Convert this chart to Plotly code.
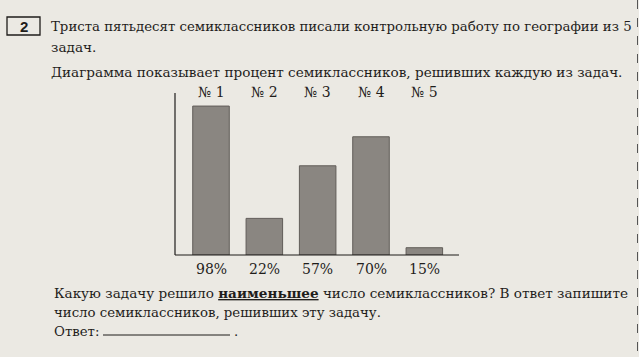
import plotly.graph_objects as go

W, H = 639, 357

# ---- data ----
categories = ["№ 1", "№ 2", "№ 3", "№ 4", "№ 5"]
percent_labels = ["98%", "22%", "57%", "70%", "15%"]
# bar heights as drawn in the picture (in the picture's own % scale)
drawn_heights = [98, 24.1, 58.7, 77.8, 4.8]

title_line1 = "Триста пятьдесят семиклассников писали контрольную работу по географии из 5"
title_line2 = "задач."
title_line3 = "Диаграмма показывает процент семиклассников, решивших каждую из задач."
q_line1 = "Какую задачу решило <b><u>наименьшее</u></b> число семиклассников? В ответ запишите"
q_line2 = "число семиклассников, решивших эту задачу."
answer_label = "Ответ:"
task_number = "2"

BG = "#ebe9e3"
INK = "#1f1d1b"
BAR = "#8a8681"
BAR_EDGE = "#615d59"
SERIF = "DejaVu Serif"

def px(x):
    return x / W

def py(y):
    return 1 - y / H

x_idx = list(range(len(categories)))

fig = go.Figure()
fig.add_trace(go.Bar(
    x=x_idx, y=drawn_heights, width=0.685,
    marker=dict(color=BAR, line=dict(color=BAR_EDGE, width=1)),
    hoverinfo="skip",
))

fig.update_layout(
    width=W, height=H,
    margin=dict(l=0, r=0, t=0, b=0),
    paper_bgcolor=BG, plot_bgcolor=BG,
    showlegend=False,
    xaxis=dict(domain=[px(175), px(459)], range=[-0.675, 4.65],
               showgrid=False, zeroline=False, showticklabels=False,
               showline=False, ticks=""),
    yaxis=dict(domain=[py(255), py(93)], range=[0, 106.6],
               showgrid=False, zeroline=False, showticklabels=False,
               showline=False, ticks=""),
)

ann = []
for i, (c, p) in enumerate(zip(categories, percent_labels)):
    ann.append(dict(x=i, xref="x", y=py(92.5), yref="paper", text=c,
                    showarrow=False, xanchor="center", yanchor="middle",
                    font=dict(family=SERIF, size=14, color=INK)))
    ann.append(dict(x=i, xref="x", y=py(269), yref="paper", text=p,
                    showarrow=False, xanchor="center", yanchor="middle",
                    font=dict(family=SERIF, size=14, color=INK)))

def txt(x, y, t, size):
    ann.append(dict(x=px(x), xref="paper", y=py(y), yref="paper", text=t,
                    showarrow=False, xanchor="left", yanchor="middle",
                    font=dict(family=SERIF, size=size, color=INK)))

txt(49, 27, title_line1, 13.3)
txt(49, 47, title_line2, 13.6)
txt(49, 72, title_line3, 13.6)
txt(52, 293, q_line1, 13.6)
txt(52, 312, q_line2, 13.3)
txt(52, 331, answer_label, 13.3)
txt(232, 331, ".", 13.3)

ann.append(dict(x=px(23.5), xref="paper", y=py(26.5), yref="paper", text="<b>%s</b>" % task_number,
                showarrow=False, xanchor="center", yanchor="middle",
                font=dict(family="Liberation Sans", size=15, color=INK)))

shapes = [
    # axes
    dict(type="line", xref="paper", yref="paper", x0=px(175), x1=px(175), y0=py(255), y1=py(93),
         line=dict(color=INK, width=1.2)),
    dict(type="line", xref="paper", yref="paper", x0=px(175), x1=px(459), y0=py(255), y1=py(255),
         line=dict(color=INK, width=1.2)),
    # task number box
    dict(type="rect", xref="paper", yref="paper", x0=px(7), x1=px(40), y0=py(35), y1=py(17),
         line=dict(color=INK, width=1.3)),
    # answer line
    dict(type="line", xref="paper", yref="paper", x0=px(103), x1=px(230), y0=py(335), y1=py(335),
         line=dict(color=INK, width=1)),
    # right page border
    dict(type="line", xref="paper", yref="paper", x0=px(637.5), x1=px(637.5), y0=py(0), y1=py(357),
         line=dict(color="#555", width=1, dash="dash")),
]

fig.update_layout(annotations=ann, shapes=shapes)
fig.write_html("out.html", config={"displayModeBar": False},
               post_script="document.body.style.margin='0';document.body.style.overflow='hidden';")
